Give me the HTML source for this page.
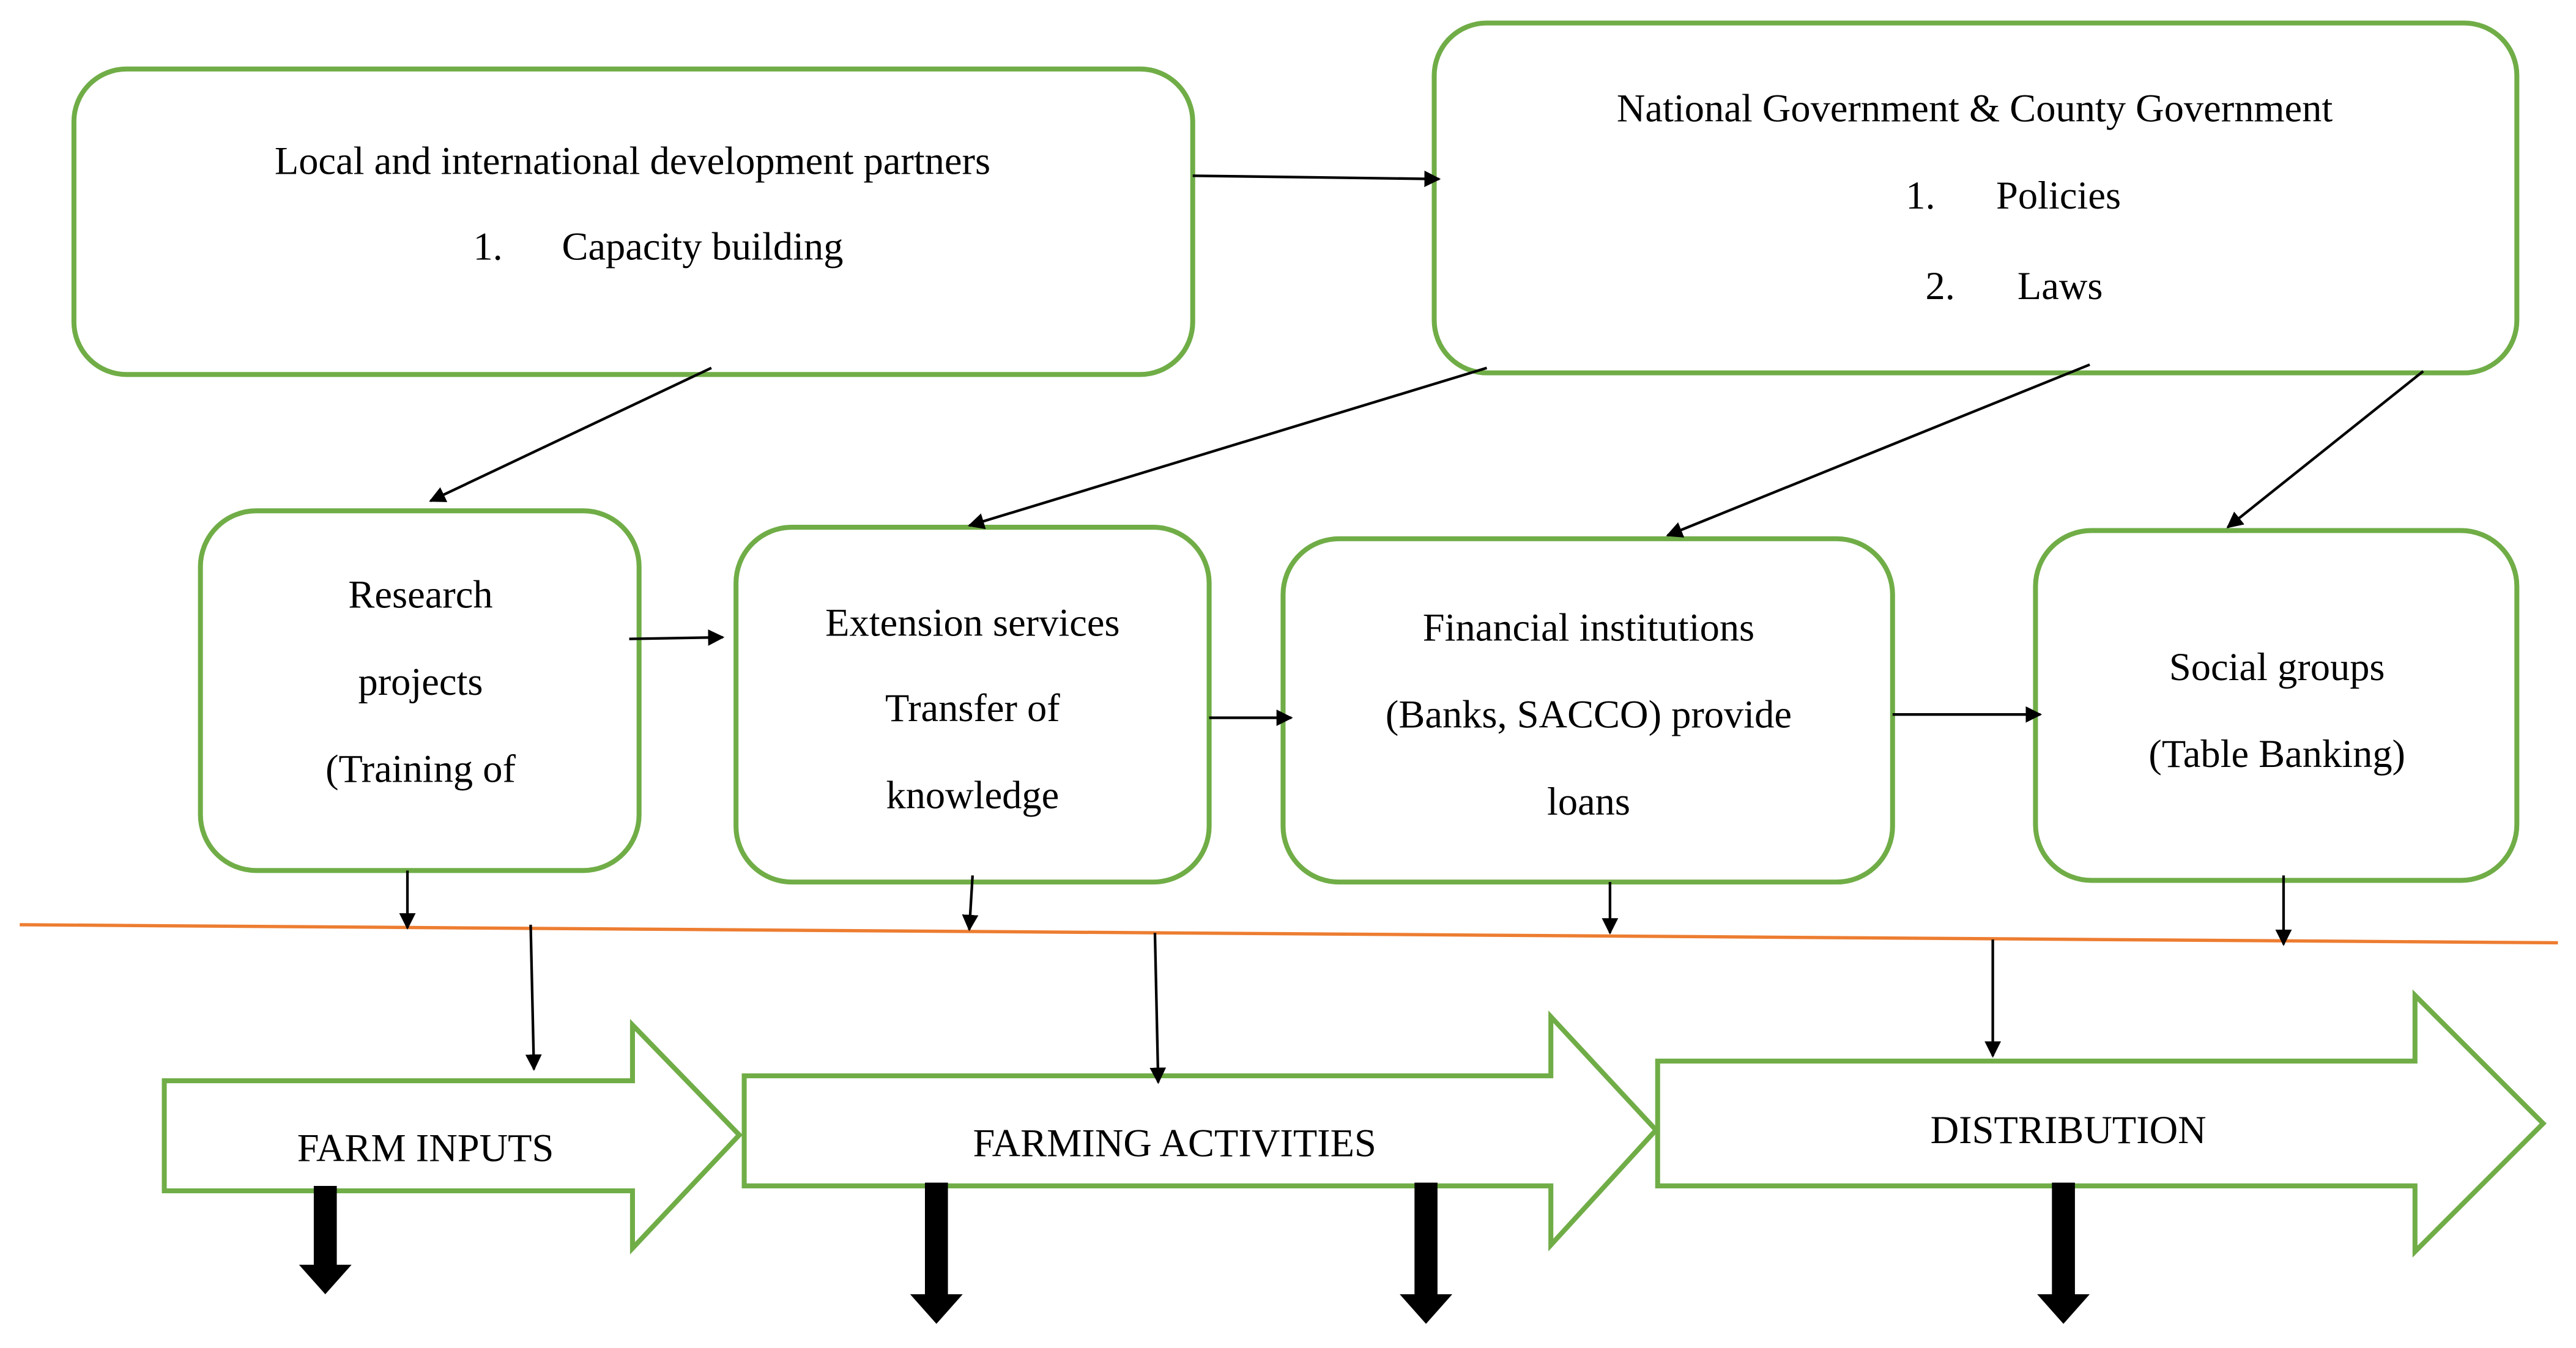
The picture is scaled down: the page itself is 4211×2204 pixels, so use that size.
<!DOCTYPE html>
<html><head><meta charset="utf-8"><style>
html,body{margin:0;padding:0;background:#fff;}
svg{display:block;}
text{font-family:"Liberation Serif",serif;font-size:24px;fill:#000;}
</style></head><body>
<svg width="4211" height="2204" viewBox="0 0 1568 820.7" preserveAspectRatio="none" xmlns="http://www.w3.org/2000/svg">
<defs>
<marker id="ah" markerWidth="10" markerHeight="10" refX="9" refY="5" orient="auto" markerUnits="userSpaceOnUse" viewBox="0 0 10 10">
<path d="M0,0 L10,5 L0,10 z" fill="#000"/>
</marker>
</defs>
<g fill="#fff" stroke="#70ad47" stroke-width="3">
<rect x="45" y="42" width="681" height="186" rx="32"/>
<rect x="873" y="14" width="659" height="213" rx="32"/>
<rect x="122" y="311" width="267" height="219" rx="34"/>
<rect x="448" y="321" width="288" height="216" rx="34"/>
<rect x="781" y="328" width="371" height="209" rx="34"/>
<rect x="1239" y="323" width="293" height="213" rx="34"/>
<path d="M100,658 L385,658 L385,624 L450,691 L385,760 L385,725 L100,725 Z"/>
<path d="M453,655 L944,655 L944,619 L1008,688 L944,758 L944,722 L453,722 Z"/>
<path d="M1009,646 L1470,646 L1470,606 L1548,684 L1470,762 L1470,722 L1009,722 Z"/>
</g>
<text x="385" y="106" text-anchor="middle">Local and international development partners</text>
<text x="288" y="158">1.</text><text x="342" y="158">Capacity building</text>
<text x="1202" y="74" text-anchor="middle">National Government &amp; County Government</text>
<text x="1160" y="127">1.</text><text x="1215" y="127">Policies</text>
<text x="1172" y="182">2.</text><text x="1228" y="182">Laws</text>
<text x="256" y="370" text-anchor="middle">Research</text>
<text x="256" y="423" text-anchor="middle">projects</text>
<text x="256" y="476" text-anchor="middle">(Training of</text>
<text x="592" y="387" text-anchor="middle">Extension services</text>
<text x="592" y="439" text-anchor="middle">Transfer of</text>
<text x="592" y="492" text-anchor="middle">knowledge</text>
<text x="967" y="390" text-anchor="middle">Financial institutions</text>
<text x="967" y="443" text-anchor="middle">(Banks, SACCO) provide</text>
<text x="967" y="496" text-anchor="middle">loans</text>
<text x="1386" y="414" text-anchor="middle">Social groups</text>
<text x="1386" y="467" text-anchor="middle">(Table Banking)</text>
<text x="259" y="707" text-anchor="middle">FARM INPUTS</text>
<text x="715" y="704" text-anchor="middle">FARMING ACTIVITIES</text>
<text x="1259" y="696" text-anchor="middle">DISTRIBUTION</text>
<line x1="12" y1="563" x2="1557" y2="574" stroke="#ed7d31" stroke-width="2"/>
<g stroke="#000" stroke-width="1.6" marker-end="url(#ah)">
<line x1="726" y1="107" x2="876" y2="109"/>
<line x1="433" y1="224" x2="262" y2="305"/>
<line x1="905" y1="224" x2="590" y2="320"/>
<line x1="1272" y1="222" x2="1015" y2="326"/>
<line x1="1475" y1="226" x2="1356" y2="321"/>
<line x1="383" y1="389" x2="440" y2="388"/>
<line x1="736" y1="437" x2="786" y2="437"/>
<line x1="1152" y1="435" x2="1242" y2="435"/>
<line x1="248" y1="530" x2="248" y2="565"/>
<line x1="592" y1="533" x2="590" y2="566"/>
<line x1="980" y1="537" x2="980" y2="568"/>
<line x1="1390" y1="533" x2="1390" y2="575"/>
<line x1="323" y1="563" x2="325" y2="651"/>
<line x1="703" y1="568" x2="705" y2="659"/>
<line x1="1213" y1="572" x2="1213" y2="643"/>
</g>
<g fill="#000">
<path d="M191,722 L205,722 L205,770 L214,770 L198,788 L182,770 L191,770 Z"/>
<path d="M563,720 L577,720 L577,788 L586,788 L570,806 L554,788 L563,788 Z"/>
<path d="M861,720 L875,720 L875,788 L884,788 L868,806 L852,788 L861,788 Z"/>
<path d="M1249,720 L1263,720 L1263,788 L1272,788 L1256,806 L1240,788 L1249,788 Z"/>
</g>
</svg>
</body></html>
